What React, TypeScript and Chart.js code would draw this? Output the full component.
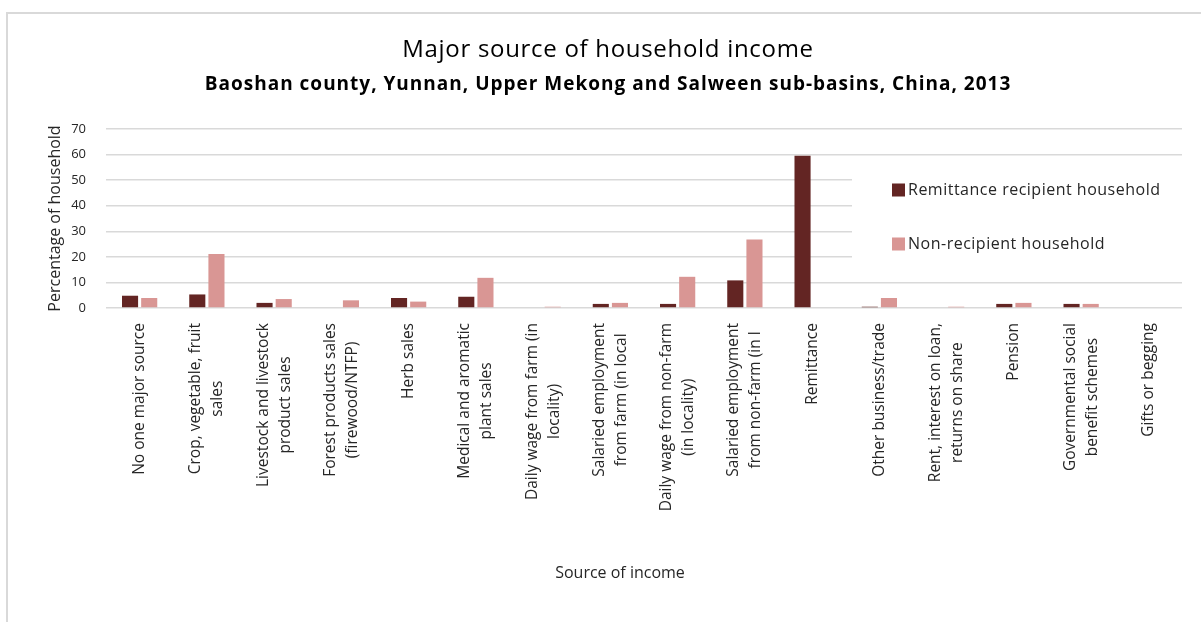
import React, { useEffect, useRef } from "react";
import { Chart, registerables } from "chart.js";

Chart.register(...registerables);

const titleText = "Major source of household income";
const subtitleText = "Baoshan county, Yunnan, Upper Mekong and Salween sub-basins, China, 2013";
const yAxisTitle = "Percentage of household";
const xAxisTitle = "Source of income";

const categories: string[][] = [
  ["No one major source"],
  ["Crop, vegetable, fruit", "sales"],
  ["Livestock and livestock", "product sales"],
  ["Forest products sales", "(firewood/NTFP)"],
  ["Herb sales"],
  ["Medical and aromatic", "plant sales"],
  ["Daily wage from farm (in", "locality)"],
  ["Salaried employment", "from farm (in local"],
  ["Daily wage from non-farm", "(in locality)"],
  ["Salaried employment", "from non-farm (in l"],
  ["Remittance"],
  ["Other business/trade"],
  ["Rent, interest on loan,", "returns on share"],
  ["Pension"],
  ["Governmental social", "benefit schemes"],
  ["Gifts or begging"],
];

const seriesNames = ["Remittance recipient household", "Non-recipient household"];
const recipientValues = [4.8, 5.3, 2.0, 0, 3.9, 4.4, 0, 1.6, 1.6, 10.8, 59.5, 0.5, 0, 1.6, 1.6, 0];
const nonRecipientValues = [3.9, 21.1, 3.5, 3.0, 2.5, 11.8, 0.5, 2.0, 12.2, 26.8, 0, 3.9, 0.5, 2.0, 1.6, 0];
const yMin = 0;
const yMax = 70;
const yStep = 10;

const FONT = "'Open Sans', 'DejaVu Sans', sans-serif";
const DARK = "#632523";
const PINK = "#D99694";
const TEXT = "#262626";

const drawExtras = {
  id: "drawExtras",
  afterDraw(chart: any) {
    const ctx = chart.ctx as CanvasRenderingContext2D;
    const c = ctx as any;
    const area = chart.chartArea;
    const xs = chart.scales.x;
    ctx.save();
    // titles
    ctx.fillStyle = "#000";
    ctx.textAlign = "center";
    ctx.textBaseline = "middle";
    c.letterSpacing = "0.7px";
    ctx.font = `24px ${FONT}`;
    ctx.fillText(titleText, 608, 50);
    c.letterSpacing = "1px";
    ctx.font = `bold 19px ${FONT}`;
    ctx.fillText(subtitleText, 608, 85);
    c.letterSpacing = "0px";

    // y axis title
    ctx.save();
    ctx.fillStyle = TEXT;
    ctx.font = `16px ${FONT}`;
    ctx.translate(55, (area.top + area.bottom) / 2);
    ctx.rotate(-Math.PI / 2);
    ctx.textAlign = "center";
    ctx.textBaseline = "middle";
    ctx.fillText(yAxisTitle, 0, 0);
    ctx.restore();

    // x category labels
    ctx.fillStyle = TEXT;
    ctx.font = `15.5px ${FONT}`;
    const lh = 22;
    const top = area.bottom + 15;
    categories.forEach((lines, i) => {
      const x = xs.getPixelForValue(i);
      const maxW = Math.max(...lines.map((l) => ctx.measureText(l).width));
      lines.forEach((line, j) => {
        const lx = x + (j - (lines.length - 1) / 2) * lh;
        ctx.save();
        ctx.translate(lx, top + maxW / 2);
        ctx.rotate(-Math.PI / 2);
        ctx.textAlign = "center";
        ctx.textBaseline = "middle";
        ctx.fillText(line, 0, 0);
        ctx.restore();
      });
    });

    // x axis title
    ctx.font = `16px ${FONT}`;
    ctx.fillStyle = TEXT;
    ctx.textAlign = "center";
    ctx.textBaseline = "middle";
    ctx.fillText(xAxisTitle, 620, 573);

    // legend
    const lx0 = 852;
    ctx.fillStyle = "#fff";
    ctx.fillRect(lx0, 163, area.right - lx0 + 1, 108);
    const items = chart.data.datasets;
    const ys = [190, 244];
    items.forEach((ds: any, k: number) => {
      ctx.fillStyle = ds.backgroundColor;
      ctx.fillRect(892, ys[k] - 6.5, 13, 13);
      ctx.fillStyle = TEXT;
      c.letterSpacing = "0.5px";
      ctx.font = `16px ${FONT}`;
      ctx.textAlign = "left";
      ctx.textBaseline = "middle";
      ctx.fillText(ds.label, 908, ys[k]);
      c.letterSpacing = "0px";
    });
    ctx.restore();
  },
};

export default function App() {
  const ref = useRef<HTMLCanvasElement | null>(null);
  useEffect(() => {
    if (!ref.current) return;
    const chart = new Chart(ref.current, {
      type: "bar",
      data: {
        labels: categories.map((c) => c.join(" ")),
        datasets: [
          { label: seriesNames[0], data: recipientValues, backgroundColor: DARK, categoryPercentage: 0.57, barPercentage: 0.84 },
          { label: seriesNames[1], data: nonRecipientValues, backgroundColor: PINK, categoryPercentage: 0.57, barPercentage: 0.84 },
        ],
      },
      options: {
        animation: false,
        responsive: false,
        maintainAspectRatio: false,
        devicePixelRatio: 1,
        layout: { padding: { top: 129, right: 19, bottom: 306, left: 42 } },
        plugins: { legend: { display: false }, title: { display: false }, tooltip: { enabled: false } },
        scales: {
          x: {
            ticks: { display: false },
            grid: { display: false },
            border: { display: false },
          },
          y: {
            min: yMin,
            max: yMax,
            ticks: { stepSize: yStep, padding: 20, color: TEXT, font: { family: FONT, size: 13 } },
            grid: { color: "#d9d9d9", lineWidth: 1.5, drawTicks: false },
            border: { display: false },
            afterFit: (scale: any) => {
              scale.width = 64;
            },
          },
        },
      },
      plugins: [drawExtras],
    });
    return () => chart.destroy();
  }, []);
  return (
    <div style={{ position: "fixed", left: 0, top: 0, width: 1201, height: 622, overflow: "hidden", background: "#fff" }}>
      <div
        style={{
          position: "absolute",
          left: 6,
          top: 12,
          width: 1400,
          height: 900,
          borderLeft: "2px solid #d9d9d9",
          borderTop: "2px solid #d9d9d9",
        }}
      />
      <canvas ref={ref} width={1201} height={622} style={{ position: "absolute", left: 0, top: 0 }} />
    </div>
  );
}
